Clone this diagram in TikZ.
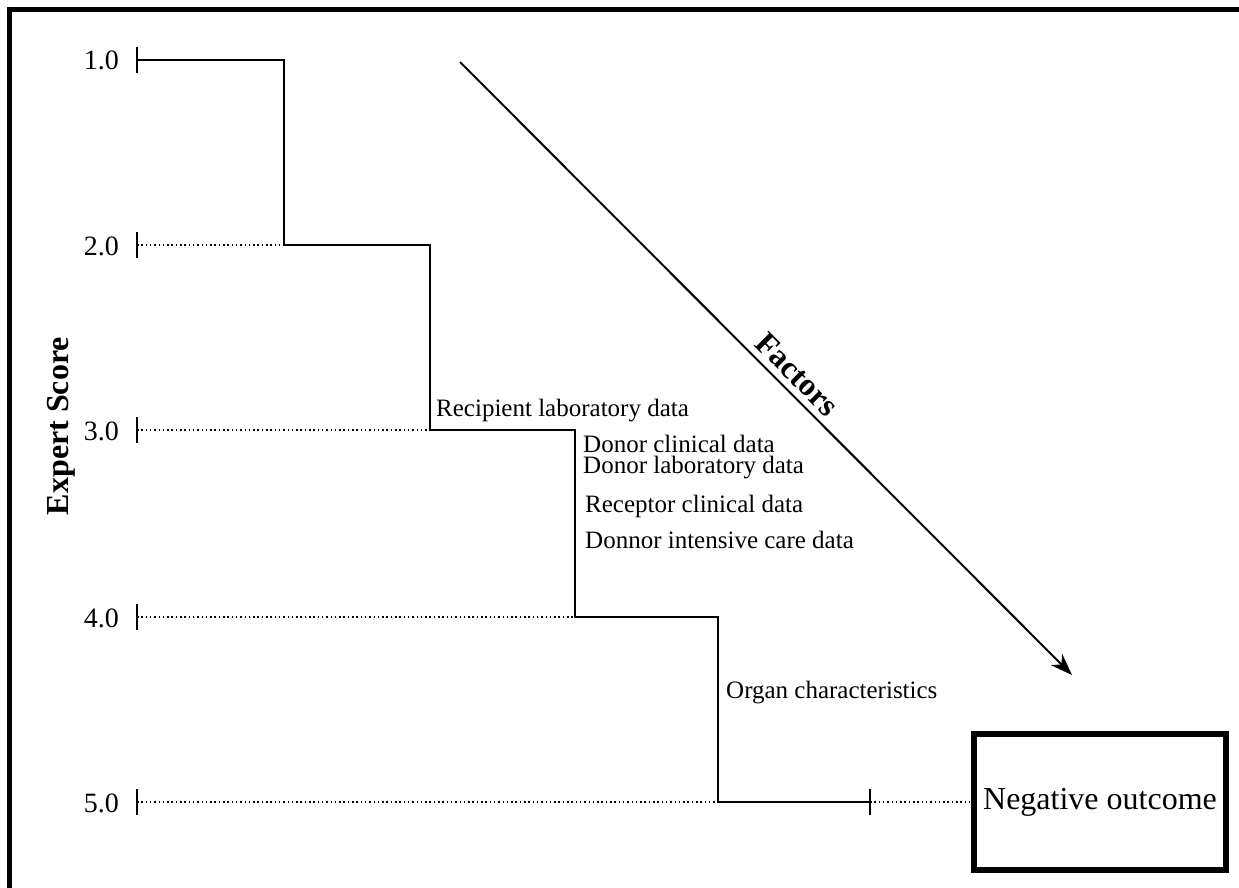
\documentclass[tikz,border=0pt]{standalone}
\usepackage{fontspec}
\setmainfont{Liberation Serif}
\usetikzlibrary{arrows.meta}
\tikzset{
  stepline/.style={line width=2pt, line cap=rect},
  guide/.style={line width=1.5pt, dash pattern=on 1.5pt off 2.8pt},
  tickmark/.style={line width=2pt},
  factor/.style={anchor=base west, inner sep=0pt, font=\fontsize{25}{28}\selectfont},
  ticklabel/.style={anchor=base east, inner sep=0pt, font=\fontsize{28}{32}\selectfont},
  outcome/.style={draw, line width=6pt, minimum width=252pt, minimum height=136pt, inner sep=0pt, font=\fontsize{32}{36}\selectfont},
}
\begin{document}
\begin{tikzpicture}[x=1pt,y=-1pt]
\useasboundingbox (0,0) rectangle (1239,888);
% frame
\draw[line width=5pt] (9.5,888) -- (9.5,9.5) -- (1239,9.5);
% axis ticks
\foreach \v/\y in {1/60,2/245,3/430,4/617,5/802}{
  \coordinate (t\v) at (137,\y);
  \draw[tickmark] (137,\y-13) -- (137,\y+13);
  \node[ticklabel] (l\v) at (119,\y+10) {\v.0};
}
% step corners
\coordinate (a1) at (284,60);
\coordinate (a2) at (284,245);
\coordinate (b2) at (430,245);
\coordinate (b3) at (430,430);
\coordinate (c3) at (575,430);
\coordinate (c4) at (575,617);
\coordinate (d4) at (718,617);
\coordinate (d5) at (718,802);
\coordinate (e5) at (870,802);
% guides
\draw[guide] (t2) -- (a2);
\draw[guide] (t3) -- (b3);
\draw[guide] (t4) -- (c4);
\draw[guide] (t5) -- (d5);
% staircase
\draw[stepline] (t1) -- (a1) -- (a2) -- (b2) -- (b3) -- (c3) -- (c4) -- (d4) -- (d5) -- (e5);
\draw[tickmark] (870,789) -- (870,815);
% outcome box
\node[outcome] (out) at (1100,802) {Negative outcome};
\draw[guide] (e5) -- (out.west);
% labels
\node[factor] (f1) at (436,416) {Recipient laboratory data};
\node[factor] (f2) at (583,452) {Donor clinical data};
\node[factor] (f3) at (583,473) {Donor laboratory data};
\node[factor] (f4) at (585,512) {Receptor clinical data};
\node[factor] (f5) at (585,548) {Donnor intensive care data};
\node[factor] (f6) at (726,698) {Organ characteristics};
% axis title
\node[rotate=90, anchor=base, inner sep=0pt, font=\bfseries\fontsize{32}{36}\selectfont] (axt) at (68,426) {Expert Score};
% factors arrow
\coordinate (fs) at (460,62);
\coordinate (fe) at (1072,675);
\draw[line width=2pt, -{Stealth[length=22pt,width=16pt]}] (fs) -- (fe)
  node[pos=0.53, sloped, above=3pt, font=\bfseries\fontsize{32}{36}\selectfont] (fac) {Factors};
\end{tikzpicture}
\end{document}
